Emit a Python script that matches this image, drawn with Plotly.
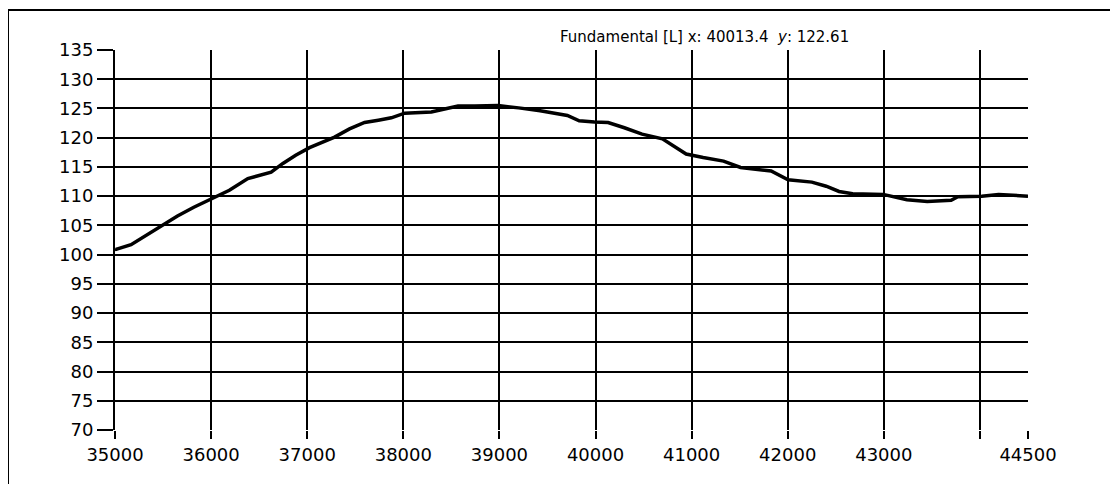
import plotly.graph_objects as go

x_vals = [35000, 35010, 35167, 35320, 35479, 35650, 35820, 36000, 36190, 36382, 36625, 36747,
          36880, 37024, 37150, 37285, 37440, 37597, 37740, 37875, 38014, 38150, 38292, 38430,
          38569, 38743, 38986, 39200, 39424, 39707, 39830, 39989, 40131, 40300, 40484, 40696,
          40943, 41120, 41332, 41509, 41827, 42004, 42251, 42400, 42534, 42675, 42993, 43240,
          43452, 43700, 43770, 44018, 44194, 44500]
y_vals = [101.0, 100.9, 101.7, 103.3, 104.9, 106.6, 108.1, 109.5, 111.0, 113.0, 114.1, 115.6,
          117.0, 118.3, 119.2, 120.1, 121.5, 122.6, 123.0, 123.4, 124.2, 124.3, 124.4, 124.9,
          125.4, 125.4, 125.5, 125.1, 124.6, 123.8, 122.9, 122.7, 122.6, 121.7, 120.6, 119.8,
          117.2, 116.6, 116.0, 114.9, 114.3, 112.8, 112.4, 111.7, 110.8, 110.4, 110.3, 109.4,
          109.1, 109.3, 109.9, 110.0, 110.3, 110.0]

x_ticks = [35000, 36000, 37000, 38000, 39000, 40000, 41000, 42000, 43000, 44000]
x_tick_text = ["35000", "36000", "37000", "38000", "39000", "40000", "41000", "42000", "43000", ""]
x_end_tick = [44500]
y_ticks = [70, 75, 80, 85, 90, 95, 100, 105, 110, 115, 120, 125, 130, 135]
cursor_label = "Fundamental [L] x: 40013.4  <i>y</i>: 122.61"

tick_font = dict(family="DejaVu Sans", size=18, color="black")

fig = go.Figure()
fig.add_trace(go.Scatter(x=x_vals, y=y_vals, mode="lines",
                         line=dict(color="black", width=3.5), showlegend=False))
fig.add_trace(go.Scatter(x=[x_end_tick[0]], y=[None], xaxis="x2", showlegend=False,
                         hoverinfo="skip"))

fig.update_layout(
    width=1110, height=476,
    margin=dict(l=107, r=90, t=42, b=54),
    paper_bgcolor="white", plot_bgcolor="white",
    xaxis=dict(range=[35000, 44500], tickvals=x_ticks, ticktext=x_tick_text,
               showgrid=True, gridcolor="black", gridwidth=2,
               ticks="outside", ticklen=8, tickwidth=2, tickcolor="black",
               showline=False, zeroline=False, tickfont=tick_font),
    xaxis2=dict(range=[35000, 44500], overlaying="x", side="bottom", anchor="y",
                tickvals=x_end_tick, ticktext=["44500"], showgrid=False,
                ticks="outside", ticklen=8, tickwidth=2, tickcolor="black",
                showline=False, zeroline=False, tickfont=tick_font),
    yaxis=dict(range=[70, 135], tickvals=y_ticks,
               showgrid=True, gridcolor="black", gridwidth=2,
               ticks="outside", ticklen=16, tickwidth=2, tickcolor="black",
               showline=True, linecolor="black", linewidth=2,
               zeroline=False, tickfont=tick_font),
    annotations=[dict(text=cursor_label, xref="paper", yref="paper",
                      x=0.646, y=1.034, yanchor="middle", showarrow=False,
                      font=dict(family="DejaVu Sans", size=15, color="black"))],
    shapes=[dict(type="rect", xref="paper", yref="paper",
                 x0=-0.1172, x1=1.092, y0=-0.2, y1=1.105,
                 line=dict(color="black", width=2))],
)

fig.write_html("out.html")
